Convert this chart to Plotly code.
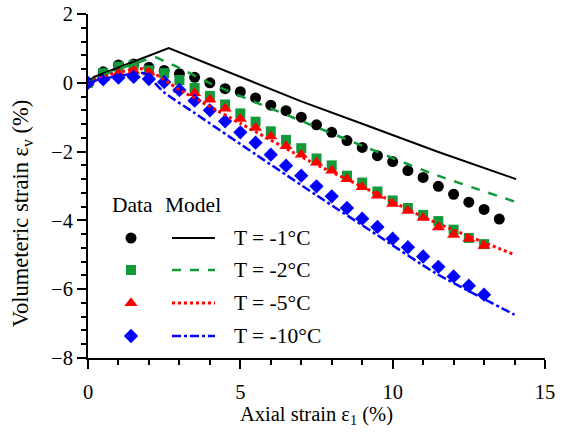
import plotly.graph_objects as go

# ---- measured data (axial strain step 0.5 %) ----
x_m1 = [i * 0.5 for i in range(28)]          # 0 ... 13.5
x_m = [i * 0.5 for i in range(27)]           # 0 ... 13.0

ev_m1 = [0, 0.32, 0.52, 0.55, 0.45, 0.36, 0.26, 0.16, 0.0, -0.17, -0.26, -0.44,
         -0.65, -0.81, -1.0, -1.22, -1.44, -1.68, -1.88, -2.12, -2.29, -2.55,
         -2.75, -3.01, -3.24, -3.47, -3.68, -3.96]
ev_m2 = [0, 0.28, 0.47, 0.52, 0.36, 0.28, 0.08, -0.15, -0.38, -0.63, -0.89, -1.13,
         -1.41, -1.66, -1.9, -2.2, -2.4, -2.7, -2.9, -3.16, -3.42, -3.64, -3.84,
         -4.02, -4.27, -4.51, -4.69]
ev_m5 = [0, 0.14, 0.28, 0.35, 0.3, 0.06, -0.2, -0.3, -0.49, -0.75, -1.05, -1.31,
         -1.56, -1.84, -2.09, -2.32, -2.55, -2.80, -3.03, -3.28, -3.52, -3.72,
         -3.93, -4.2, -4.42, -4.54, -4.74]
ev_m10 = [0, 0.1, 0.15, 0.17, 0.11, 0.02, -0.21, -0.52, -0.8, -1.12, -1.44, -1.74,
          -2.09, -2.41, -2.70, -3.01, -3.30, -3.64, -3.95, -4.19, -4.53, -4.78,
          -5.05, -5.35, -5.63, -5.90, -6.16]

# ---- model predictions ----
xm_1 = [0, 0.2, 2.65, 5.0, 7.0, 9.0, 11.5, 14.05]
ym_1 = [0, 0.17, 1.01, 0.17, -0.54, -1.19, -2.01, -2.8]
xm_2 = [0, 0.5, 1.0, 1.5, 1.9, 2.2, 2.5, 3.0, 4.0, 5.4, 7.2, 9.0, 11.3, 14.0]
ym_2 = [0, 0.22, 0.40, 0.55, 0.67, 0.74, 0.63, 0.43, -0.01, -0.53, -1.18, -1.83, -2.64, -3.45]
xm_5 = [0, 0.67, 1.16, 1.5, 1.87, 2.25, 2.58, 3.0, 4.0, 5.0, 7.3, 9.3, 11.2, 13.95]
ym_5 = [0, 0.23, 0.33, 0.40, 0.40, 0.23, 0.04, -0.2, -0.69, -1.18, -2.29, -3.15, -3.98, -4.98]
xm_10 = [0, 0.5, 1.0, 1.5, 1.85, 2.5, 3.5, 5.5, 7.5, 9.5, 11.4, 14.0]
ym_10 = [0, 0.12, 0.20, 0.26, 0.28, -0.28, -0.88, -2.08, -3.27, -4.43, -5.53, -6.74]

labels = ["T = -1°C", "T = -2°C", "T = -5°C", "T = -10°C"]
colors = ["#000000", "#119a3a", "#ff0000", "#0000ff"]
symbols = ["circle", "square", "triangle-up", "diamond"]
msizes = [11, 10, 11.5, 11]
dashes = ["solid", "dash", "dot", "dashdot"]
lwidths = [2, 2.5, 3, 2.5]

FONT = "Liberation Serif"

fig = go.Figure()

meas = [(x_m1, ev_m1), (x_m, ev_m2), (x_m, ev_m5), (x_m, ev_m10)]
model = [(xm_1, ym_1), (xm_2, ym_2), (xm_5, ym_5), (xm_10, ym_10)]

for (xs, ys), c, s, ms in zip(meas, colors, symbols, msizes):
    fig.add_trace(go.Scatter(x=xs, y=ys, mode="markers", showlegend=False,
                             marker=dict(symbol=s, size=ms, color=c, line=dict(width=0))))

for i, ((xs, ys), c, d, w) in enumerate(zip(model, colors, dashes, lwidths)):
    shape = "linear" if i == 0 else "spline"
    fig.add_trace(go.Scatter(x=xs, y=ys, mode="lines", showlegend=False,
                             line=dict(color=c, dash=d, width=w, shape=shape, smoothing=0.6)))

# ---- key drawn on an overlay axis in pixel units ----
row_y = [238, 270, 303, 336]
key_marker_x = 131
key_line_x = [172, 215]
for y, c, s, ms, d, w in zip(row_y, colors, symbols, msizes, dashes, lwidths):
    fig.add_trace(go.Scatter(x=[key_marker_x], y=[y], xaxis="x2", yaxis="y2",
                             mode="markers", showlegend=False,
                             marker=dict(symbol=s, size=ms, color=c, line=dict(width=0))))
    fig.add_trace(go.Scatter(x=key_line_x, y=[y, y], xaxis="x2", yaxis="y2",
                             mode="lines", showlegend=False,
                             line=dict(color=c, dash=d, width=w)))

annotations = [
    dict(x=132, y=205, text="Data"),
    dict(x=193, y=205, text="Model"),
]
for y, t in zip(row_y, labels):
    annotations.append(dict(x=232, y=y, text=t, xanchor="left"))
for a in annotations:
    a.update(xref="x2", yref="y2", showarrow=False,
             font=dict(family=FONT, size=21.5, color="black"))
    a.setdefault("xanchor", "center")

# vertical axis title, placed to the left of the tick labels
annotations.append(dict(
    text="Volumeteric strain ε<sub>v</sub> (%)", textangle=-90,
    xref="paper", yref="paper", x=-0.145, y=0.42,
    xanchor="center", yanchor="middle", showarrow=False,
    font=dict(family=FONT, size=22.5, color="black")))

fig.update_layout(
    width=568, height=434,
    margin=dict(l=88, r=23, t=14, b=76),
    paper_bgcolor="white", plot_bgcolor="white",
    font=dict(family=FONT, size=20.5, color="black"),
    annotations=annotations,
    xaxis=dict(range=[0, 15], dtick=5, tick0=0, showgrid=False, zeroline=False,
               automargin=False,
               showline=True, linecolor="black", linewidth=2,
               ticks="outside", ticklen=9, tickwidth=2, tickcolor="black",
               ticklabelstandoff=5,
               minor=dict(dtick=1, ticks="outside", ticklen=5, tickwidth=2, tickcolor="black"),
               title=dict(text="Axial strain ε<sub>1</sub> (%)", standoff=4,
                          font=dict(family=FONT, size=20.5))),
    yaxis=dict(range=[-8, 2], dtick=2, tick0=0, showgrid=False, zeroline=False,
               automargin=False,
               showline=True, linecolor="black", linewidth=2,
               ticks="outside", ticklen=9, tickwidth=2, tickcolor="black",
               minor=dict(dtick=0.4, ticks="outside", ticklen=5, tickwidth=2, tickcolor="black")),
    xaxis2=dict(overlaying="x", range=[88, 545], visible=False),
    yaxis2=dict(overlaying="y", range=[358, 14], visible=False),
)

fig.write_html("out.html")
